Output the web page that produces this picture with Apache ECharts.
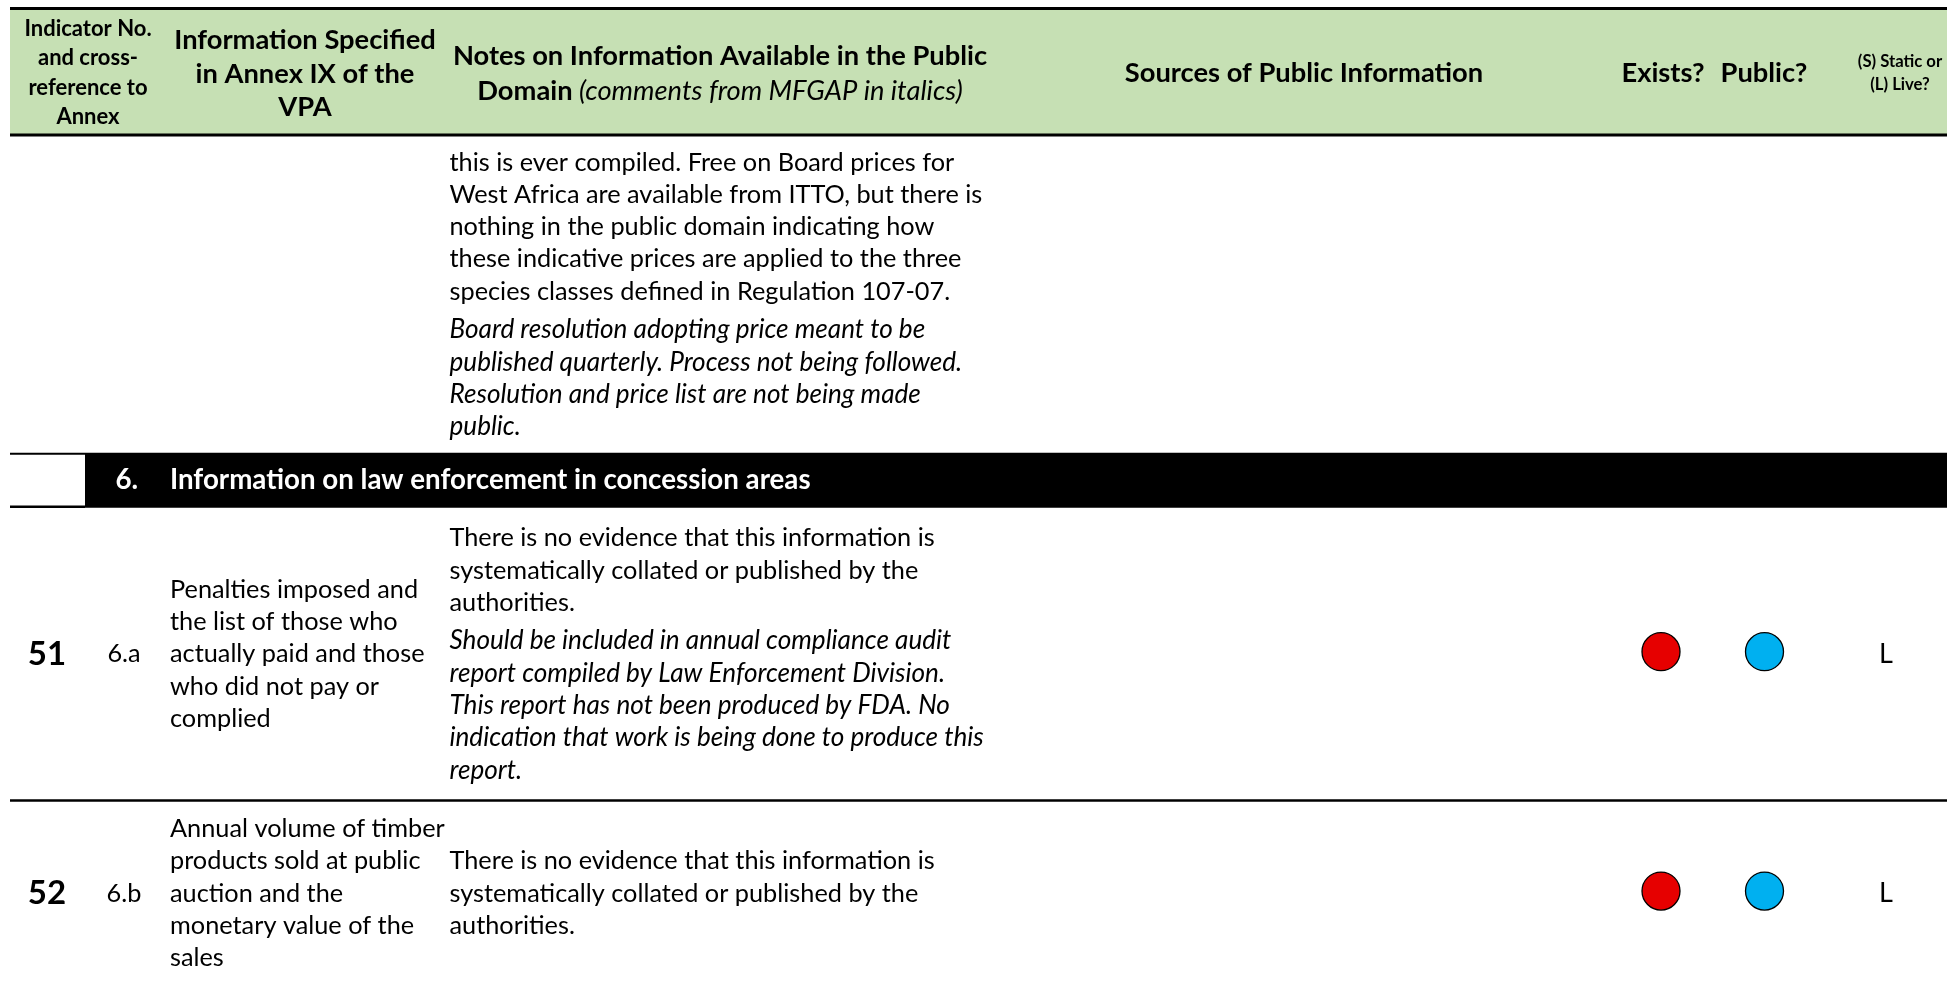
<!DOCTYPE html>
<html><head><meta charset="utf-8">
<script src="https://cdn.jsdelivr.net/npm/echarts@6/dist/echarts.min.js"></script>
<style>html,body{margin:0;padding:0;background:#fff}#c{width:1947px;height:984px}</style>
</head><body><div id="c"></div>
<script>
// ---------------- DATA ----------------
const headerLabels = [
  'Indicator No.\nand cross-\nreference to\nAnnex',
  'Information Specified\nin Annex IX of the\nVPA',
  'Notes on Information Available in the Public|Domain|(comments from MFGAP in italics)',
  'Sources of Public Information',
  'Exists?',
  'Public?',
  '(S) Static or\n(L) Live?'
];
const indicatorNos = ['', '51', '52'];
const annexRefs = ['', '6.a', '6.b'];
const infoSpecified = [
  [],
  ['Penalties imposed and', 'the list of those who', 'actually paid and those', 'who did not pay or', 'complied'],
  ['Annual volume of timber', 'products sold at public', 'auction and the', 'monetary value of the', 'sales']
];
const publicNotes = [
  ['this is ever compiled. Free on Board prices for', 'West Africa are available from ITTO, but there is',
   'nothing in the public domain indicating how', 'these indicative prices are applied to the three',
   'species classes defined in Regulation 107-07.'],
  ['There is no evidence that this information is', 'systematically collated or published by the', 'authorities.'],
  ['There is no evidence that this information is', 'systematically collated or published by the', 'authorities.']
];
const mfgapComments = [
  ['Board resolution adopting price meant to be', 'published quarterly. Process not being followed.',
   'Resolution and price list are not being made', 'public.'],
  ['Should be included in annual compliance audit', 'report compiled by Law Enforcement Division.',
   'This report has not been produced by FDA. No', 'indication that work is being done to produce this', 'report.'],
  []
];
const publicSources = ['', '', ''];
const existsRating = [null, 'red', 'red'];
const publicRating = [null, 'blue', 'blue'];
const staticOrLive = ['', 'L', 'L'];
const sectionNumber = '6.';
const sectionTitle = 'Information on law enforcement in concession areas';
const sectionAfterRow = 0;

// ---------------- LAYOUT / STYLE ----------------
const S = {
  W: 1947, H: 984, left: 10,
  headerTop: 8.5, headerBottom: 135, headerLineW: 3,
  lineH: 32.3, paraGap: 6, rowPad: [19.5, 28.5, 24.5], sectionH: 55, sectionBoxRight: 85,
  xNum: 47, xRef: 124, xInfo: 170, xNotes: 449.5, xSources: 1304, xExists: 1661, xPublic: 1764.5, xSL: 1886,
  hdrX: [88, 305, 720, 1304, 1663, 1764, 1900], hdrY: 73,
  markerDy: -2.5,
  ff: 'Lato, "Open Sans", sans-serif',
  bodySize: 25.3, italicSize: 26.15, sectionSize: 27.7, hdr0Size: 22, hdrSize: 27.3, hdrSmall: 16.7, numSize: 33, slSize: 27,
  green: '#C6E0B4', colors: { red: '#E60000', blue: '#00B0F0' }
};
const f = (w, s) => `${w} ${s}px ${S.ff}`;

const cells = [];
const markers = [];
function text(x, y, t, font, opts) { cells.push(Object.assign({ k: 'text', x, y, t, font }, opts || {})); }
function rect(x1, y1, x2, y2, fill) { cells.push({ k: 'rect', x: x1, y: y1, x2, y2, fill }); }
function hline(x1, x2, y, w) { cells.push({ k: 'line', x: x1, y, x2, w }); }

// header
rect(S.left, S.headerTop, S.W, S.headerBottom, S.green);
hline(S.left, S.W, S.headerTop, S.headerLineW);
hline(S.left, S.W, S.headerBottom, S.headerLineW);
text(S.hdrX[0], S.hdrY, headerLabels[0], f('bold', S.hdr0Size), { align: 'center', lh: 29.5 });
text(S.hdrX[1], S.hdrY + 1, headerLabels[1], f('bold', S.hdrSize), { align: 'center', lh: 33.5 });
(function () {
  const p = headerLabels[2].split('|');
  text(S.hdrX[2], S.hdrY + 1, `{b|${p[0]}}\n{b|${p[1]}}{i| ${p[2]}}`, f('bold', S.hdrSize), {
    align: 'center', lh: 35,
    rich: { b: { font: f('bold', S.hdrSize), lineHeight: 35 }, i: { font: f('italic', S.hdrSize), lineHeight: 35 } }
  });
})();
text(S.hdrX[3], S.hdrY, headerLabels[3], f('bold', S.hdrSize), { align: 'center' });
text(S.hdrX[4], S.hdrY, headerLabels[4], f('bold', S.hdrSize), { align: 'center' });
text(S.hdrX[5], S.hdrY, headerLabels[5], f('bold', S.hdrSize), { align: 'center' });
text(S.hdrX[6], S.hdrY, headerLabels[6], f('bold', S.hdrSmall), { align: 'center', lh: 23 });

// rows
let y = S.headerBottom + S.headerLineW / 2;
for (let i = 0; i < indicatorNos.length; i++) {
  const lh = S.lineH;
  const notesH = publicNotes[i].length * lh + (mfgapComments[i].length ? S.paraGap + mfgapComments[i].length * lh : 0);
  const infoH = infoSpecified[i].length * lh;
  const rowH = Math.max(notesH, infoH) + S.rowPad[i];
  const top = y, bottom = y + rowH, cy = (top + bottom) / 2;
  if (indicatorNos[i]) text(S.xNum, cy, indicatorNos[i], f('bold', S.numSize), { align: 'center' });
  if (annexRefs[i]) text(S.xRef, cy, annexRefs[i], f('normal', S.bodySize), { align: 'center' });
  let iy = cy - infoH / 2;
  infoSpecified[i].forEach((s, k) => text(S.xInfo, iy + lh * (k + 0.5), s, f('normal', S.bodySize)));
  let ny = cy - notesH / 2;
  publicNotes[i].forEach((s, k) => text(S.xNotes, ny + lh * (k + 0.5), s, f('normal', S.bodySize)));
  let cy0 = ny + publicNotes[i].length * lh + S.paraGap;
  mfgapComments[i].forEach((s, k) => text(S.xNotes, cy0 + lh * (k + 0.5), s, f('italic', S.italicSize)));
  if (publicSources[i]) text(S.xSources, cy, publicSources[i], f('normal', S.bodySize), { align: 'center' });
  if (existsRating[i]) markers.push({ value: [S.xExists, cy + S.markerDy], itemStyle: { color: S.colors[existsRating[i]] } });
  if (publicRating[i]) markers.push({ value: [S.xPublic, cy + S.markerDy], itemStyle: { color: S.colors[publicRating[i]] } });
  if (staticOrLive[i]) text(S.xSL, cy, staticOrLive[i], f('normal', S.slSize), { align: 'center' });
  y = bottom;
  if (i === sectionAfterRow) {
    const st = y, sb = y + S.sectionH, sc = (st + sb) / 2;
    rect(S.sectionBoxRight, st, S.W, sb, '#000');
    hline(S.left, S.sectionBoxRight, st + 1, 2);
    hline(S.left, S.sectionBoxRight, sb - 1, 2.5);
    text(115.5, sc, sectionNumber, f('bold', S.sectionSize), { fill: '#fff' });
    text(S.xInfo, sc, sectionTitle, f('bold', S.sectionSize), { fill: '#fff' });
    y = sb;
  } else {
    hline(S.left, S.W, y, 2.5);
  }
}

// ---------------- CHART ----------------
const chart = echarts.init(document.getElementById('c'), null, { renderer: 'canvas' });
chart.setOption({
  animation: false,
  backgroundColor: '#fff',
  grid: { left: 0, right: 0, top: 0, bottom: 0 },
  xAxis: { type: 'value', min: 0, max: S.W, show: false },
  yAxis: { type: 'value', min: 0, max: S.H, inverse: true, show: false },
  series: [
    {
      type: 'custom', silent: true, clip: false,
      data: cells.map(c => [c.x, c.y]),
      renderItem(params, api) {
        const c = cells[params.dataIndex];
        const p = api.coord([c.x, c.y]);
        if (c.k === 'rect') {
          const q = api.coord([c.x2, c.y2]);
          return { type: 'rect', shape: { x: p[0], y: p[1], width: q[0] - p[0], height: q[1] - p[1] }, style: { fill: c.fill } };
        }
        if (c.k === 'line') {
          const q = api.coord([c.x2, c.y]);
          return { type: 'line', shape: { x1: p[0], y1: p[1], x2: q[0], y2: q[1] }, style: { stroke: '#000', lineWidth: c.w } };
        }
        return {
          type: 'text', x: p[0], y: p[1],
          style: { text: c.t, font: c.font, fill: c.fill || '#000', align: c.align || 'left', verticalAlign: 'middle', lineHeight: c.lh, rich: c.rich }
        };
      }
    },
    {
      type: 'scatter', silent: true, symbol: 'circle', symbolSize: 38,
      itemStyle: { borderColor: '#000', borderWidth: 1.3, opacity: 1 },
      data: markers, z: 5
    }
  ]
});
</script>
</body></html>
